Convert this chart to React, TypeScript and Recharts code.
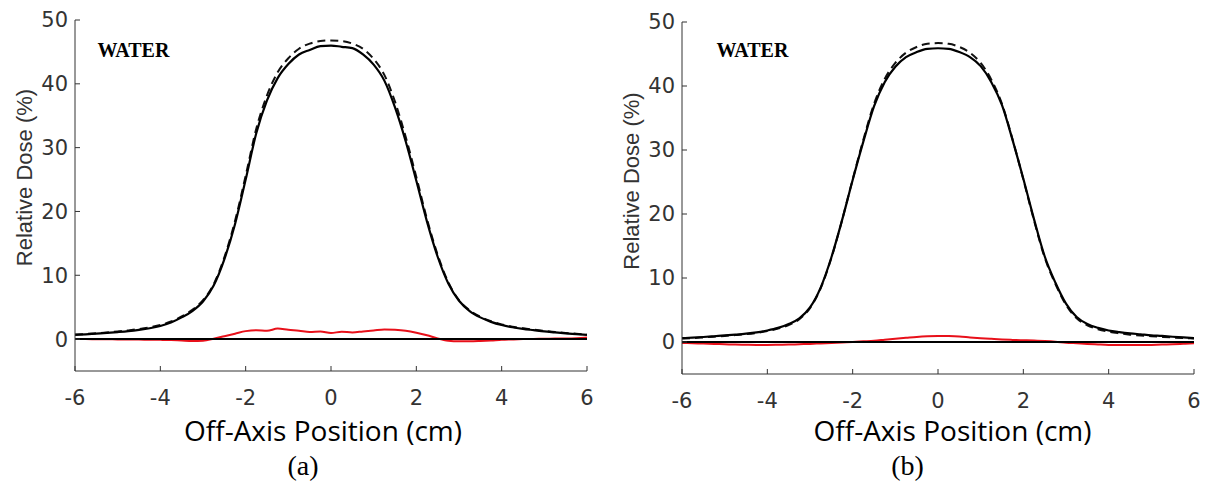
import React from 'react';
import { LineChart, Line, XAxis, YAxis, ReferenceLine } from 'recharts';

// Off-axis positions (cm)
const positions = [
  -6, -5.75, -5.5, -5.25, -5, -4.75, -4.5, -4.25, -4, -3.75, -3.5, -3.25, -3, -2.75, -2.5, -2.25,
  -2, -1.75, -1.5, -1.25, -1, -0.75, -0.5, -0.25, 0, 0.25, 0.5, 0.75, 1, 1.25, 1.5, 1.75,
  2, 2.25, 2.5, 2.75, 3, 3.25, 3.5, 3.75, 4, 4.25, 4.5, 4.75, 5, 5.25, 5.5, 5.75, 6,
];

// Panel (a)
const aSolid = [
  0.65, 0.75, 0.86, 0.97, 1.1, 1.25, 1.45, 1.7, 2.05, 2.6, 3.4, 4.4, 5.9, 8.4, 12.5, 18.0,
  25.0, 32.3, 37.4, 40.9, 43.1, 44.6, 45.3, 45.9, 46.0, 45.8, 45.6, 44.6, 43.0, 40.5, 36.3, 31.0,
  24.8, 18.4, 12.9, 8.7, 6.0, 4.4, 3.4, 2.7, 2.2, 1.85, 1.6, 1.4, 1.2, 1.05, 0.9, 0.78, 0.65,
];
const aDashed = [
  0.7, 0.8, 0.92, 1.05, 1.2, 1.36, 1.58, 1.85, 2.2, 2.75, 3.55, 4.6, 6.1, 8.6, 12.8, 18.5,
  25.6, 33.0, 38.2, 41.8, 44.0, 45.5, 46.3, 46.7, 46.8, 46.7, 46.3, 45.5, 43.9, 41.4, 37.2, 31.7,
  25.4, 18.8, 13.2, 8.9, 6.1, 4.5, 3.5, 2.8, 2.3, 1.95, 1.7, 1.48, 1.28, 1.12, 0.97, 0.83, 0.7,
];
const aDiff = [
  0.0, 0.0, -0.02, -0.03, -0.05, -0.06, -0.08, -0.1, -0.12, -0.15, -0.22, -0.28, -0.25, 0.05, 0.45, 0.85,
  1.25, 1.4, 1.3, 1.65, 1.45, 1.3, 1.1, 1.2, 0.95, 1.15, 1.05, 1.2, 1.35, 1.5, 1.45, 1.3,
  1.0, 0.6, 0.1, -0.25, -0.35, -0.35, -0.3, -0.22, -0.12, -0.06, 0.0, 0.03, 0.05, 0.08, 0.1, 0.15, 0.25,
];

// Panel (b)
const bSolid = [
  0.6, 0.68, 0.78, 0.9, 1.02, 1.15, 1.3, 1.5, 1.8, 2.2, 2.8, 3.7, 5.4, 8.5, 13.2, 19.0,
  25.3, 31.3, 36.8, 40.6, 43.0, 44.5, 45.3, 45.8, 45.9, 45.8, 45.3, 44.5, 43.1, 40.6, 37.0, 31.5,
  25.5, 19.2, 13.4, 9.3, 6.0, 3.9, 2.8, 2.2, 1.8, 1.55, 1.35, 1.2, 1.05, 0.95, 0.82, 0.72, 0.6,
];
const bDashed = [
  0.55, 0.62, 0.72, 0.83, 0.95, 1.08, 1.23, 1.42, 1.7, 2.1, 2.65, 3.55, 5.3, 8.4, 13.1, 19.0,
  25.4, 31.6, 37.2, 41.1, 43.6, 45.2, 46.1, 46.6, 46.7, 46.6, 46.1, 45.2, 43.6, 41.0, 37.2, 31.6,
  25.4, 19.0, 13.2, 9.1, 5.8, 3.7, 2.6, 2.0, 1.6, 1.35, 1.15, 1.0, 0.9, 0.8, 0.7, 0.62, 0.55,
];
const bDiff = [
  -0.15, -0.2, -0.25, -0.3, -0.35, -0.4, -0.43, -0.45, -0.45, -0.43, -0.4, -0.35, -0.3, -0.22, -0.15, -0.07,
  0.0, 0.1, 0.2, 0.35, 0.5, 0.65, 0.8, 0.9, 0.95, 0.92, 0.85, 0.72, 0.6, 0.5, 0.4, 0.33,
  0.28, 0.22, 0.15, 0.05, -0.1, -0.2, -0.3, -0.38, -0.45, -0.48, -0.48, -0.47, -0.45, -0.4, -0.35, -0.28, -0.2,
];

const xTicks = [-6, -4, -2, 0, 2, 4, 6];
const yTicks = [0, 10, 20, 30, 40, 50];
const xDomain = [-6, 6];
const yDomain = [-5, 50];

const buildRows = (solid: number[], dashed: number[], diff: number[]) =>
  positions.map((x, i) => ({ x, solid: solid[i], dashed: dashed[i], diff: diff[i] }));

const dataA = buildRows(aSolid, aDashed, aDiff);
const dataB = buildRows(bSolid, bDashed, bDiff);

const AXIS = '#333333';
const tickStyle = { fontFamily: 'DejaVu Sans', fontSize: 21, fill: '#333333' };

function Panel({ data, width, margin }: { data: any[]; width: number; margin: any }) {
  return (
    <LineChart width={width} height={483} data={data} margin={margin}>
      <XAxis
        dataKey="x"
        type="number"
        domain={xDomain}
        ticks={xTicks}
        interval={0}
        height={30}
        tickSize={-5}
        tickMargin={24}
        tick={tickStyle}
        tickLine={{ stroke: AXIS }}
        axisLine={{ stroke: AXIS }}
        allowDataOverflow
      />
      <XAxis
        xAxisId="top"
        orientation="top"
        dataKey="x"
        type="number"
        domain={xDomain}
        ticks={xTicks}
        interval={0}
        height={0}
        tickSize={-5}
        tick={false}
        tickLine={{ stroke: AXIS }}
        axisLine={{ stroke: AXIS }}
        allowDataOverflow
      />
      <YAxis
        type="number"
        domain={yDomain}
        ticks={yTicks}
        interval={0}
        width={45}
        tickSize={-5}
        tickMargin={12}
        tick={tickStyle}
        tickLine={{ stroke: AXIS }}
        axisLine={{ stroke: AXIS }}
        allowDataOverflow
      />
      <YAxis
        yAxisId="right"
        orientation="right"
        type="number"
        domain={yDomain}
        ticks={yTicks}
        interval={0}
        width={0}
        tickSize={-5}
        tick={false}
        tickLine={{ stroke: AXIS }}
        axisLine={{ stroke: AXIS }}
        allowDataOverflow
      />
      <Line
        dataKey="diff"
        type="monotone"
        stroke="#e8101a"
        strokeWidth={2}
        dot={false}
        isAnimationActive={false}
      />
      <ReferenceLine y={0} stroke="#000000" strokeWidth={2} />
      <Line
        dataKey="dashed"
        type="monotone"
        stroke="#111111"
        strokeWidth={2}
        strokeDasharray="8 5"
        dot={false}
        isAnimationActive={false}
      />
      <Line
        dataKey="solid"
        type="monotone"
        stroke="#000000"
        strokeWidth={2.2}
        dot={false}
        isAnimationActive={false}
      />
    </LineChart>
  );
}

export default function App() {
  return (
    <div
      style={{
        position: 'absolute',
        left: 0,
        top: 0,
        width: 1205,
        height: 483,
        background: '#ffffff',
        overflow: 'hidden',
      }}
    >
      <div style={{ position: 'absolute', left: 0, top: 0 }}>
        <Panel data={dataA} width={600} margin={{ top: 20, right: 13, bottom: 82, left: 30 }} />
      </div>
      <div style={{ position: 'absolute', left: 600, top: 0 }}>
        <Panel data={dataB} width={605} margin={{ top: 22, right: 11, bottom: 79, left: 37 }} />
      </div>
      <svg
        width={1205}
        height={483}
        style={{ position: 'absolute', left: 0, top: 0, pointerEvents: 'none' }}
      >
        <text
          x={32}
          y={177.5}
          transform="rotate(-90 32 177.5)"
          textAnchor="middle"
          fontFamily="Liberation Sans"
          fontSize={22}
          fill="#333333"
        >
          Relative Dose (%)
        </text>
        <text
          x={639}
          y={181}
          transform="rotate(-90 639 181)"
          textAnchor="middle"
          fontFamily="Liberation Sans"
          fontSize={22}
          fill="#333333"
        >
          Relative Dose (%)
        </text>
        <text x={97.5} y={56.7} fontFamily="Liberation Serif" fontWeight="bold" fontSize={20} fill="#000">
          WATER
        </text>
        <text x={716.5} y={56.7} fontFamily="Liberation Serif" fontWeight="bold" fontSize={20} fill="#000">
          WATER
        </text>
        <text x={323} y={441} textAnchor="middle" fontFamily="Open Sans" fontSize={28} fill="#000">
          Off-Axis Position (cm)
        </text>
        <text x={952.5} y={441} textAnchor="middle" fontFamily="Open Sans" fontSize={28} fill="#000">
          Off-Axis Position (cm)
        </text>
        <text x={303} y={475} textAnchor="middle" fontFamily="Liberation Serif" fontSize={28} fill="#000">
          (a)
        </text>
        <text x={907.5} y={475} textAnchor="middle" fontFamily="Liberation Serif" fontSize={28} fill="#000">
          (b)
        </text>
      </svg>
    </div>
  );
}
